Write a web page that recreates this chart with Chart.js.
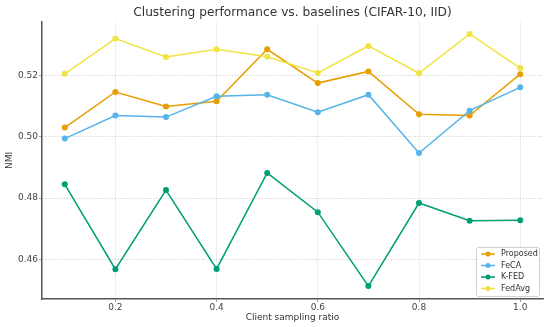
<!DOCTYPE html>
<html>
<head>
<meta charset="utf-8">
<script src="https://cdn.jsdelivr.net/npm/chart.js@4/dist/chart.umd.min.js"></script>
<style>
  html, body { margin: 0; padding: 0; background: #fff; }
  #wrap { width: 550px; height: 327px; }
</style>
</head>
<body>
<div id="wrap"><canvas id="nmiChart" width="550" height="327"></canvas></div>
<script>
// Dati
const ratios = [0.1, 0.2, 0.3, 0.4, 0.5, 0.6, 0.7, 0.8, 0.9, 1.0];
const proposed = [0.5030, 0.5146, 0.5099, 0.5116, 0.5285, 0.5175, 0.5213, 0.5073, 0.5069, 0.5204];
const feca = [0.4994, 0.5069, 0.5064, 0.5132, 0.5137, 0.5080, 0.5137, 0.4947, 0.5085, 0.5161];
const kfed = [0.4845, 0.4568, 0.4826, 0.4569, 0.4882, 0.4754, 0.4513, 0.4784, 0.4726, 0.4728];
const fedavg = [0.5205, 0.5320, 0.5260, 0.5285, 0.5261, 0.5208, 0.5296, 0.5207, 0.5335, 0.5224];
const xTicks = [0.2, 0.4, 0.6, 0.8, 1.0];
const yTicks = [0.46, 0.48, 0.50, 0.52];

const FONT = 'DejaVu Sans';

function makeSet(label, values, color, order) {
  return {
    label: label,
    data: values.map((v, i) => ({ x: ratios[i], y: v })),
    borderColor: color,
    backgroundColor: color,
    borderWidth: 1.5,
    pointRadius: 3,
    pointHoverRadius: 3,
    pointBorderWidth: 0,
    tension: 0,
    order: order
  };
}

// Legenda disegnata a mano dentro l'area del grafico (in basso a destra)
const legendBox = {
  id: 'legendBox',
  afterDraw(chart) {
    const ctx = chart.ctx;
    const sets = chart.data.datasets;
    const x0 = 476, y0 = 247, w = 63, h = 49;
    ctx.save();
    ctx.fillStyle = 'rgba(255,255,255,0.85)';
    ctx.strokeStyle = '#d0d0d0';
    ctx.lineWidth = 1;
    ctx.beginPath();
    ctx.roundRect(x0 + 0.5, y0 + 0.5, w, h, 2);
    ctx.fill();
    ctx.stroke();
    ctx.font = '8px ' + FONT;
    ctx.textBaseline = 'middle';
    sets.forEach((ds, i) => {
      const yy = y0 + 7 + i * 11.5;
      ctx.strokeStyle = ds.borderColor;
      ctx.lineWidth = 1.5;
      ctx.beginPath();
      ctx.moveTo(481, yy);
      ctx.lineTo(495, yy);
      ctx.stroke();
      ctx.fillStyle = ds.borderColor;
      ctx.beginPath();
      ctx.arc(488, yy, 2.5, 0, Math.PI * 2);
      ctx.fill();
      ctx.fillStyle = '#333';
      ctx.fillText(ds.label, 501, yy);
    });
    ctx.restore();
  }
};

const ctx = document.getElementById('nmiChart').getContext('2d');
const nmiChart = new Chart(ctx, {
  type: 'line',
  data: {
    datasets: [
      makeSet('Proposed', proposed, '#E69F00', 3),
      makeSet('FeCA', feca, '#56B4E9', 2),
      makeSet('K-FED', kfed, '#009E73', 1),
      makeSet('FedAvg', fedavg, '#F0E442', 0)
    ]
  },
  plugins: [legendBox],
  options: {
    responsive: false,
    animation: false,
    layout: { padding: { left: 0, right: 7, top: 0, bottom: 0 } },
    plugins: {
      legend: { display: false },
      tooltip: { enabled: false },
      title: {
        display: true,
        fullSize: false,
        text: 'Clustering performance vs. baselines (CIFAR-10, IID)',
        color: '#333',
        font: { family: FONT, size: 12.2, weight: 'normal' },
        padding: { top: 6, bottom: 1.4 }
      }
    },
    scales: {
      x: {
        type: 'linear',
        min: 0.055,
        max: 1.045,
        afterBuildTicks: s => { s.ticks = xTicks.map(v => ({ value: v })); },
        afterFit: s => { s.height = 28; },
        ticks: {
          color: '#444',
          font: { family: FONT, size: 9 },
          padding: 0,
          maxRotation: 0,
          callback: v => v.toFixed(1)
        },
        grid: { color: '#e8e8e8', lineWidth: 0.8, tickLength: 3, tickColor: '#888' },
        border: { color: '#555', width: 1.5 },
        title: {
          display: true,
          text: 'Client sampling ratio',
          color: '#333',
          font: { family: FONT, size: 9 },
          padding: { top: 0, bottom: 4 }
        }
      },
      y: {
        min: 0.4471,
        max: 0.5374,
        afterBuildTicks: s => { s.ticks = yTicks.map(v => ({ value: v })); },
        afterFit: s => { s.width = 42; },
        ticks: {
          color: '#444',
          font: { family: FONT, size: 9 },
          padding: 1,
          callback: v => v.toFixed(2)
        },
        grid: { color: '#cfcfcf', lineWidth: 0.8, tickLength: 3, tickColor: '#888', tickBorderDash: [] },
        border: { color: '#555', width: 1.5, dash: [1.5, 1.5] },
        title: {
          display: true,
          text: 'NMI',
          color: '#333',
          font: { family: FONT, size: 9 },
          padding: { top: 4, bottom: 0 }
        }
      }
    }
  }
});
</script>
</body>
</html>
